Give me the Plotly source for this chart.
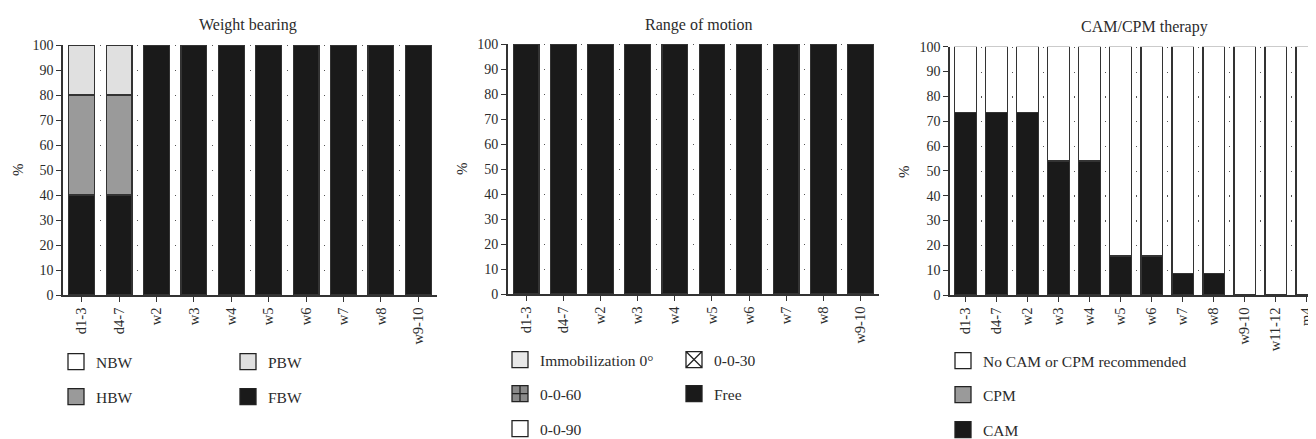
import plotly.graph_objects as go

# ---------------- data ----------------
wb_categories = ["d1-3", "d4-7", "w2", "w3", "w4", "w5", "w6", "w7", "w8", "w9-10"]
wb_FBW = [40, 40, 100, 100, 100, 100, 100, 100, 100, 100]
wb_HBW = [40, 40, 0, 0, 0, 0, 0, 0, 0, 0]
wb_PBW = [20, 20, 0, 0, 0, 0, 0, 0, 0, 0]
wb_NBW = [0, 0, 0, 0, 0, 0, 0, 0, 0, 0]

rom_categories = ["d1-3", "d4-7", "w2", "w3", "w4", "w5", "w6", "w7", "w8", "w9-10"]
rom_free = [100, 100, 100, 100, 100, 100, 100, 100, 100, 100]
rom_090 = [0, 0, 0, 0, 0, 0, 0, 0, 0, 0]
rom_060 = [0, 0, 0, 0, 0, 0, 0, 0, 0, 0]
rom_030 = [0, 0, 0, 0, 0, 0, 0, 0, 0, 0]
rom_immob = [0, 0, 0, 0, 0, 0, 0, 0, 0, 0]

cam_categories = ["d1-3", "d4-7", "w2", "w3", "w4", "w5", "w6", "w7", "w8", "w9-10", "w11-12", "m4"]
cam_CAM = [73.5, 73.5, 73.5, 54, 54, 15.7, 15.7, 8.5, 8.5, 0, 0, 0]
cam_CPM = [0, 0, 0, 0, 0, 0, 0, 0, 0, 0, 0, 0]
cam_none = [26.5, 26.5, 26.5, 46, 46, 84.3, 84.3, 91.5, 91.5, 100, 100, 100]

y_ticks = list(range(0, 101, 10))

# ---------------- style ----------------
FONT = "Liberation Serif"
TXT = "#2b2b2b"
EDGE = "#333333"
BLACK = "#1a1a1a"
GREY = "#9a9a9a"
LIGHT = "#e0e0e0"
WHITE = "#ffffff"
BARW = 0.69

fig = go.Figure()


def add_bar(xaxis, yaxis, cats, vals, name, color, legend, rank,
            pattern=None, symbol="square"):
    marker = dict(color=color, line=dict(color=EDGE, width=1.2))
    if pattern:
        marker["pattern"] = pattern
    fig.add_trace(go.Bar(
        x=list(range(len(cats))), y=vals, name=name, width=BARW,
        marker=marker, xaxis=xaxis, yaxis=yaxis, showlegend=False,
        hoverinfo="skip"))
    # legend key (larger box than the default bar key)
    fig.add_trace(go.Scatter(
        x=[None], y=[None], mode="markers", name=name,
        marker=dict(symbol=symbol, size=16, color=color,
                    line=dict(color="#222222", width=1.3)),
        xaxis=xaxis, yaxis=yaxis, legend=legend, legendrank=rank,
        hoverinfo="skip"))


# Weight bearing (bottom to top)
add_bar("x", "y", wb_categories, wb_FBW, "FBW", BLACK, "legend2", 2)
add_bar("x", "y", wb_categories, wb_HBW, "HBW", GREY, "legend2", 1)
add_bar("x", "y", wb_categories, wb_PBW, "PBW", LIGHT, "legend", 2)
add_bar("x", "y", wb_categories, wb_NBW, "NBW", WHITE, "legend", 1)

# Range of motion
add_bar("x2", "y2", rom_categories, rom_free, "Free", BLACK, "legend4", 2)
add_bar("x2", "y2", rom_categories, rom_090, "0-0-90", WHITE, "legend5", 1)
add_bar("x2", "y2", rom_categories, rom_060, "0-0-60", "#8a8a8a", "legend4", 1,
        pattern=dict(shape="+", fgcolor="#111111", bgcolor="#8a8a8a", size=4, solidity=0.35),
        symbol="square-cross")
add_bar("x2", "y2", rom_categories, rom_030, "0-0-30", WHITE, "legend3", 2,
        pattern=dict(shape="x", fgcolor="#111111", bgcolor=WHITE, size=4, solidity=0.5),
        symbol="square-x")
add_bar("x2", "y2", rom_categories, rom_immob, "Immobilization 0°", "#e8e8e8", "legend3", 1)

# CAM / CPM
add_bar("x3", "y3", cam_categories, cam_CAM, "CAM", BLACK, "legend8", 1)
add_bar("x3", "y3", cam_categories, cam_CPM, "CPM", GREY, "legend7", 1)
add_bar("x3", "y3", cam_categories, cam_none, "No CAM or CPM recommended", WHITE, "legend6", 1)

# page body has an 8px margin; the figure is sized so it fits the window
OFF = 8
W, H = 1308, 431


def px_x(p):
    return (p - OFF) / W


def px_y(p):
    return 1 - (p - OFF) / H


def xaxis_cfg(dom, cats, rng, dash, anchor):
    return dict(
        domain=dom, range=rng, anchor=anchor,
        tickmode="array", tickvals=list(range(len(cats))), ticktext=cats,
        tickangle=-90, ticks="outside", ticklen=5, tickwidth=1.2, tickcolor=EDGE,
        showline=True, linecolor=EDGE, linewidth=1.5,
        showgrid=False, zeroline=False, automargin=False,
        ticklabeloverflow="allow",
        tickfont=dict(family=FONT, size=14.5, color=TXT),
        minor=dict(tick0=0.5, dtick=1, showgrid=True, gridcolor="#555555",
                   gridwidth=1.3, griddash=dash, ticks=""),
        fixedrange=True,
    )


def yaxis_cfg(dom, anchor):
    return dict(
        domain=dom, range=[0, 100], anchor=anchor,
        tickmode="array", tickvals=y_ticks,
        ticks="outside", ticklen=5, tickwidth=1.2, tickcolor=EDGE,
        showline=True, linecolor=EDGE, linewidth=1.5,
        showgrid=False, zeroline=False, automargin=False,
        tickfont=dict(family=FONT, size=14, color=TXT),
        fixedrange=True,
    )


x1 = xaxis_cfg([px_x(63), px_x(437)], wb_categories, [-0.5, 9.5], "1.3px,23.7px", "y")
x2 = xaxis_cfg([px_x(507.7), px_x(879)], rom_categories, [-0.5, 9.5], "1.3px,23.7px", "y2")
x3 = xaxis_cfg([px_x(950), 1.0], cam_categories, [-0.5, 11.3], "1.3px,23.5px", "y3")

y1 = yaxis_cfg([px_y(295), px_y(45)], "x")
y2 = yaxis_cfg([px_y(294), px_y(44)], "x2")
y3 = yaxis_cfg([px_y(295), px_y(46.7)], "x3")


def legend_cfg(xtext, ycenter, entrywidth):
    return dict(
        orientation="h", x=px_x(xtext - 40), xanchor="left",
        y=px_y(ycenter), yanchor="middle",
        bgcolor="rgba(0,0,0,0)", borderwidth=0, itemsizing="trace",
        font=dict(family=FONT, size=15.5, color=TXT),
        entrywidth=entrywidth, entrywidthmode="pixels",
        traceorder="normal", itemclick=False, itemdoubleclick=False,
    )


ann = []
titles = [("Weight bearing", 248, 25), ("Range of motion", 699, 25), ("CAM/CPM therapy", 1144, 27)]
for t, xp, yp in titles:
    ann.append(dict(text=t, x=px_x(xp), y=px_y(yp), xref="paper", yref="paper",
                    xanchor="center", yanchor="middle", showarrow=False,
                    font=dict(family=FONT, size=16, color=TXT)))
for xp, yp in [(18, 170), (462, 169), (904, 172)]:
    ann.append(dict(text="%", x=px_x(xp), y=px_y(yp), xref="paper", yref="paper",
                    xanchor="center", yanchor="middle", showarrow=False, textangle=-90,
                    font=dict(family=FONT, size=15, color=TXT)))

fig.update_layout(
    width=W, height=H,
    margin=dict(l=0, r=0, t=0, b=0, pad=0, autoexpand=False),
    paper_bgcolor="white", plot_bgcolor="white",
    barmode="stack",
    xaxis=x1, yaxis=y1, xaxis2=x2, yaxis2=y2, xaxis3=x3, yaxis3=y3,
    legend=legend_cfg(96, 362, 127),
    legend2=legend_cfg(96, 397, 127),
    legend3=legend_cfg(540, 360, 129),
    legend4=legend_cfg(540, 394, 129),
    legend5=legend_cfg(540, 429, 129),
    legend6=legend_cfg(983, 361, 250),
    legend7=legend_cfg(983, 395, 250),
    legend8=legend_cfg(983, 430, 250),
    annotations=ann,
    showlegend=True,
)

fig.write_html("out.html")
